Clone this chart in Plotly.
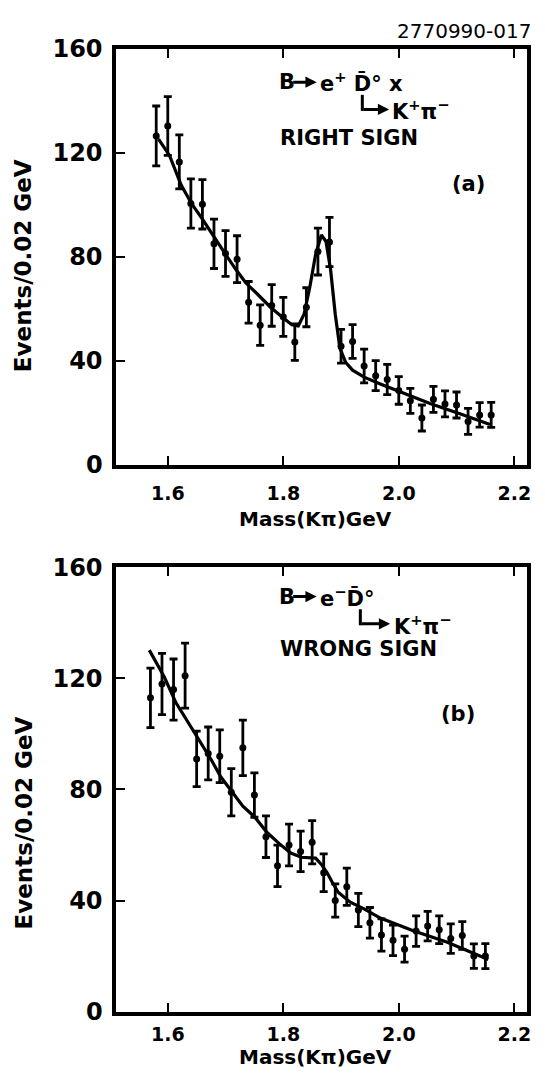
import plotly.graph_objects as go

W, H = 545, 1087

# ---------------- data: panel (a) right sign ----------------
mass_a = [1.58, 1.60, 1.62, 1.64, 1.66, 1.68, 1.70, 1.72, 1.74, 1.76,
          1.78, 1.80, 1.82, 1.84, 1.86, 1.88, 1.90, 1.92, 1.94, 1.96,
          1.98, 2.00, 2.02, 2.04, 2.06, 2.08, 2.10, 2.12, 2.14, 2.16]
events_a = [126.6, 130.4, 116.6, 100.6, 100.3, 85.1, 81.4, 79.2, 62.6, 53.8,
            61.4, 57.0, 47.3, 60.7, 82.1, 85.8, 45.7, 47.5, 38.1, 34.4,
            32.9, 28.7, 24.7, 18.1, 25.3, 23.5, 23.1, 16.8, 19.3, 19.3]
err_a = [11.5, 11.3, 10.4, 9.5, 9.5, 9.5, 8.8, 9.0, 8.0, 7.8,
         8.0, 7.5, 7.0, 7.5, 9.0, 9.5, 6.5, 6.5, 6.5, 5.8,
         5.8, 5.3, 4.8, 5.0, 5.0, 5.0, 5.0, 5.0, 4.7, 4.8]
fit_a_x = [1.584, 1.603, 1.623, 1.641, 1.660, 1.680, 1.699, 1.718, 1.735, 1.755,
           1.778, 1.801, 1.815, 1.826, 1.836, 1.846, 1.856, 1.866, 1.874, 1.882,
           1.890, 1.898, 1.908, 1.920, 1.940, 1.968, 1.997, 2.054, 2.112, 2.158]
fit_a_y = [125.4, 119.1, 107.8, 100.6, 94.6, 87.7, 81.4, 75.2, 70.1, 65.8,
           60.7, 56.4, 54.0, 53.5, 58.0, 68.5, 81.0, 88.5, 86.0, 75.0,
           58.0, 45.0, 39.5, 36.5, 33.8, 31.2, 28.7, 23.7, 19.3, 15.6]

# ---------------- data: panel (b) wrong sign ----------------
mass_b = [1.57, 1.59, 1.61, 1.63, 1.65, 1.67, 1.69, 1.71, 1.73, 1.75,
          1.77, 1.79, 1.81, 1.83, 1.85, 1.87, 1.89, 1.91, 1.93, 1.95,
          1.97, 1.99, 2.01, 2.03, 2.05, 2.07, 2.09, 2.11, 2.13, 2.15]
events_b = [113.0, 118.0, 116.0, 121.0, 91.0, 93.0, 92.0, 79.0, 95.0, 78.0,
            63.0, 52.5, 60.0, 57.7, 61.0, 50.0, 40.0, 45.0, 36.6, 32.0,
            27.6, 25.7, 22.5, 29.0, 30.8, 29.5, 26.3, 27.4, 20.0, 20.0]
err_b = [10.7, 11.0, 11.0, 11.7, 10.0, 9.5, 9.5, 8.5, 10.0, 8.0,
         7.5, 7.5, 7.5, 7.3, 7.8, 6.8, 6.0, 6.7, 6.0, 5.5,
         5.8, 5.5, 4.7, 5.5, 5.3, 5.0, 5.3, 5.0, 4.4, 4.5]
fit_b_x = [1.568, 1.594, 1.614, 1.633, 1.652, 1.675, 1.692, 1.712, 1.730, 1.750,
           1.772, 1.793, 1.813, 1.831, 1.845, 1.856, 1.866, 1.876, 1.885, 1.895,
           1.916, 1.939, 1.968, 2.025, 2.083, 2.155]
fit_b_y = [130.2, 120.5, 111.3, 105.0, 98.8, 90.8, 84.5, 78.8, 74.0, 70.2,
           64.5, 60.5, 57.1, 55.6, 55.5, 55.3, 53.0, 50.0, 46.5, 43.0,
           39.4, 37.1, 33.7, 29.1, 25.1, 18.8]

# ---------------- ticks ----------------
x_tickvals = [1.6, 1.8, 2.0, 2.2]
x_ticktext = ["1.6", "1.8", "2.0", "2.2"]
y_tickvals = [0, 40, 80, 120, 160]
y_ticktext = ["0", "40", "80", "120", "160"]

FONT = "DejaVu Sans"


def px_x(p):
    return p / W


def px_y(p):
    return 1 - p / H


fig = go.Figure()

for mx, ev, er, fx, fy, xa, ya in [
    (mass_a, events_a, err_a, fit_a_x, fit_a_y, "x", "y"),
    (mass_b, events_b, err_b, fit_b_x, fit_b_y, "x2", "y2"),
]:
    fig.add_trace(go.Scatter(x=fx, y=fy, mode="lines",
                             line=dict(color="black", width=3.2),
                             xaxis=xa, yaxis=ya, hoverinfo="skip"))
    fig.add_trace(go.Scatter(x=mx, y=ev, mode="markers",
                             marker=dict(color="black", size=7),
                             error_y=dict(type="data", array=er, color="black",
                                          thickness=2.8, width=4),
                             xaxis=xa, yaxis=ya))

x_dom = [px_x(117), px_x(531)]
x_range = [1.5106, 2.2222]

xcommon = dict(range=x_range, domain=x_dom, tickvals=x_tickvals, ticktext=x_ticktext,
               showgrid=False, zeroline=False, showline=True, linecolor="black",
               linewidth=3.5, mirror="ticks", ticks="inside", tickcolor="black",
               tickwidth=2, ticklen=9,
               tickfont=dict(family=FONT, size=19, color="black", weight="bold"))
ycommon = dict(range=[0, 160], tickvals=y_tickvals, ticktext=y_ticktext,
               showgrid=False, zeroline=False, showline=True, linecolor="black",
               linewidth=3.5, mirror=True, ticks="inside", tickcolor="black",
               tickwidth=2, ticklen=9, ticklabelstandoff=5,
               tickfont=dict(family=FONT, size=24, color="black", weight="bold"))

fig.update_layout(
    width=W, height=H, margin=dict(l=0, r=0, t=0, b=0),
    paper_bgcolor="white", plot_bgcolor="white", showlegend=False,
    xaxis=dict(anchor="y", ticklabelstandoff=8, **xcommon),
    yaxis=dict(anchor="x", domain=[px_y(463), px_y(36)], **ycommon),
    xaxis2=dict(anchor="y2", ticklabelstandoff=3, **xcommon),
    yaxis2=dict(anchor="x2", domain=[px_y(1024), px_y(568)], **ycommon),
)


def ann(text, x, y, size=21, xanchor="left", angle=0, weight="bold"):
    fig.add_annotation(text=text, x=px_x(x), y=px_y(y), xref="paper", yref="paper",
                       xanchor=xanchor, yanchor="middle", showarrow=False,
                       textangle=angle,
                       font=dict(family=FONT, size=size, color="black", weight=weight))


def arrow(x_tail, x_head, y):
    fig.add_annotation(text="", x=px_x(x_head), y=px_y(y), xref="paper", yref="paper",
                       ax=-(x_head - x_tail), ay=0, axref="pixel", ayref="pixel",
                       showarrow=True, arrowhead=2, arrowsize=0.75, arrowwidth=3,
                       arrowcolor="black", standoff=0)


def stem(x, y_top, y_bot):
    fig.add_shape(type="line", xref="paper", yref="paper",
                  x0=px_x(x), x1=px_x(x), y0=px_y(y_top), y1=px_y(y_bot + 1.5),
                  line=dict(color="black", width=3))


# panel (a) labels
ann("B", 279, 70)
arrow(294, 319, 70)
ann("e<sup>+</sup> D\u0304° x", 320, 70)
stem(365, 83, 98)
arrow(365, 392, 98)
ann("K<sup>+</sup>π<sup>−</sup>", 393, 99)
ann("RIGHT SIGN", 280, 127)
ann("(a)", 453, 175)
# panel (b) labels
ann("B", 279, 598)
arrow(294, 319, 598)
ann("e<sup>−</sup>D\u0304°", 320, 598)
stem(363, 611, 626)
arrow(363, 393, 626)
ann("K<sup>+</sup>π<sup>−</sup>", 395, 627)
ann("WRONG SIGN", 280, 652)
ann("(b)", 442, 718)
# figure id
ann("2770990-017", 537, 17, size=20, xanchor="right", weight="normal")
# axis titles
ann("Events/0.02 GeV", 24, 258, size=23, xanchor="center", angle=-90)
ann("Events/0.02 GeV", 24, 830, size=23, xanchor="center", angle=-90)
ann("Mass(Kπ)GeV", 318, 518, size=20, xanchor="center")
ann("Mass(Kπ)GeV", 318, 1071, size=20, xanchor="center")

fig.write_html("out.html")
